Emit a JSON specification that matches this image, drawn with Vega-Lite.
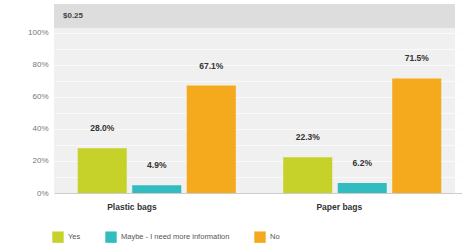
{
  "$schema": "https://vega.github.io/schema/vega-lite/v6.json",
  "width": 401,
  "height": 189,
  "autosize": {"type": "none"},
  "padding": {"left": 54, "top": 4, "right": 7, "bottom": 53},
  "background": "white",
  "config": {
    "view": {"fill": "#f0f0f0", "stroke": null},
    "font": "Liberation Sans"
  },
  "datasets": {
    "bars": [
      {"group": "Plastic bags", "answer": "Yes", "value": 28.0, "label": "28.0%"},
      {"group": "Plastic bags", "answer": "Maybe - I need more information", "value": 4.9, "label": "4.9%"},
      {"group": "Plastic bags", "answer": "No", "value": 67.1, "label": "67.1%"},
      {"group": "Paper bags", "answer": "Yes", "value": 22.3, "label": "22.3%"},
      {"group": "Paper bags", "answer": "Maybe - I need more information", "value": 6.2, "label": "6.2%"},
      {"group": "Paper bags", "answer": "No", "value": 71.5, "label": "71.5%"}
    ],
    "header": [{"group": "Plastic bags", "lo": 103, "hi": 118, "mid": 110.5, "title": "$0.25"}]
  },
  "layer": [
    {
      "data": {"name": "header"},
      "mark": {"type": "rect", "color": "#dddddd"},
      "encoding": {
        "y": {
          "field": "lo", "type": "quantitative", "scale": {"domain": [0, 118], "nice": false},
          "axis": {"title": null, "values": [0, 10, 20, 30, 40, 50, 60, 70, 80, 90, 100], "tickCount": 20, "labelExpr": "datum.value % 20 == 0 ? datum.value + '%' : ''", "labelOverlap": false, "labelColor": "#777777", "labelFontSize": 8, "labelPadding": 6, "ticks": false, "domain": false, "gridColor": "#fafafa", "gridWidth": 1}
        },
        "y2": {"field": "hi"}
      }
    },
    {
      "data": {"name": "header"},
      "mark": {"type": "text", "align": "left", "baseline": "middle", "dx": 9, "fontSize": 8, "fontWeight": "bold", "color": "#444444"},
      "encoding": {
        "x": {"field": "group", "type": "nominal", "sort": ["Plastic bags", "Paper bags"], "bandPosition": 0},
        "y": {"field": "mid", "type": "quantitative"},
        "text": {"field": "title"}
      }
    },
    {
      "data": {"name": "bars"},
      "mark": {"type": "bar"},
      "encoding": {
        "x": {
          "field": "group", "type": "nominal", "sort": ["Plastic bags", "Paper bags"],
          "scale": {"paddingInner": 0, "paddingOuter": 0, "range": [0, 411]},
          "axis": {"title": null, "labelAngle": 0, "labelFontWeight": "bold", "labelFontSize": 8.5, "labelColor": "#333333", "labelPadding": 13, "ticks": false, "domainColor": "#cccccc"}
        },
        "xOffset": {
          "field": "answer", "type": "nominal", "sort": ["Yes", "Maybe - I need more information", "No"],
          "scale": {"paddingInner": 0.1, "paddingOuter": 0.435}
        },
        "y": {"field": "value", "type": "quantitative"},
        "color": {
          "field": "answer", "type": "nominal", "sort": ["Yes", "Maybe - I need more information", "No"],
          "scale": {"domain": ["Yes", "Maybe - I need more information", "No"], "range": ["#c6d22a", "#33bcbf", "#f5a91c"]},
          "legend": {"title": null, "orient": "none", "legendX": -2, "legendY": 227, "direction": "horizontal", "symbolType": "square", "symbolSize": 130, "symbolStrokeWidth": 0, "labelFontSize": 7.5, "labelColor": "#555555", "columnPadding": 24, "padding": 0}
        }
      }
    },
    {
      "data": {"name": "bars"},
      "mark": {"type": "text", "baseline": "bottom", "dy": -15, "fontSize": 8.5, "fontWeight": "bold", "color": "#333333"},
      "encoding": {
        "x": {"field": "group", "type": "nominal", "sort": ["Plastic bags", "Paper bags"]},
        "xOffset": {"field": "answer", "type": "nominal", "sort": ["Yes", "Maybe - I need more information", "No"]},
        "y": {"field": "value", "type": "quantitative"},
        "text": {"field": "label"}
      }
    }
  ]
}
